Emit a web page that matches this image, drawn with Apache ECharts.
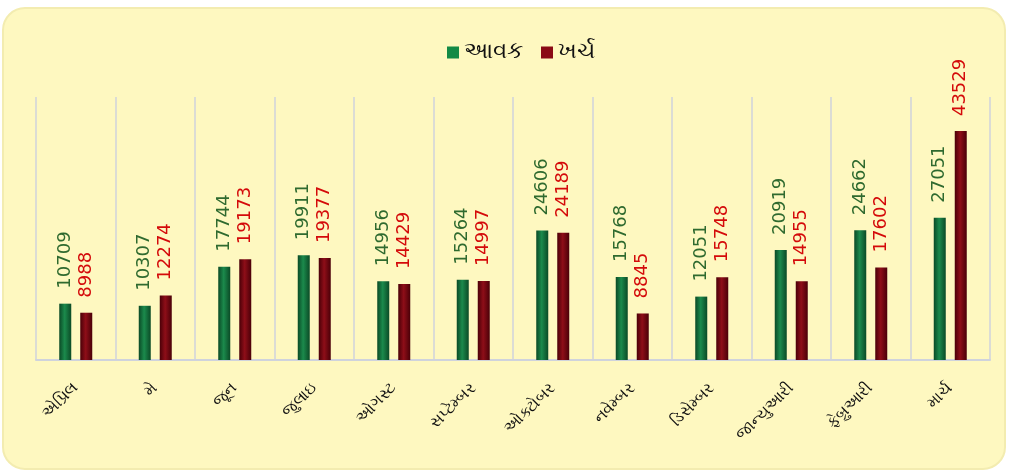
<!DOCTYPE html>
<html>
<head>
<meta charset="utf-8">
<script src="https://cdn.jsdelivr.net/npm/echarts@6/dist/echarts.min.js"></script>
<style>
  html, body { margin: 0; padding: 0; background: #ffffff; }
  #chart { width: 1010px; height: 472px; }
</style>
</head>
<body>
<div id="chart"></div>
<script>
// મહિના અને આવક / ખર્ચ
var months = ['એપ્રિલ', 'મે', 'જૂન', 'જુલાઇ', 'ઓગસ્ટ', 'સપ્ટેમ્બર', 'ઓક્ટોબર', 'નવેમ્બર', 'ડિસેમ્બર', 'જાન્યુઆરી', 'ફેબ્રુઆરી', 'માર્ચ']
var income = [10709, 10307, 17744, 19911, 14956, 15264, 24606, 15768, 12051, 20919, 24662, 27051]
var expense = [8988, 12274, 19173, 19377, 14429, 14997, 24189, 8845, 15748, 14955, 17602, 43529]
var seriesNames = ['આવક', 'ખર્ચ']

var font = '"DejaVu Sans", "Noto Sans", sans-serif'

// બાર માટે ગ્રેડિયન્ટ
function barColor (edge, mid) {
  return new echarts.graphic.LinearGradient(0, 0, 1, 0, [
    {offset: 0, color: edge},
    {offset: 0.45, color: mid},
    {offset: 1, color: edge}
  ])
}
var green = barColor('#0b4a26', '#1b8a4c')
var red = barColor('#4a0008', '#8e0e18')

function valueLabel (color) {
  return {
    show: true,
    position: 'top',
    rotate: 90,
    align: 'left',
    verticalAlign: 'middle',
    distance: 15,
    color: color,
    fontFamily: font,
    fontSize: 18
  }
}

var myChart = echarts.init(document.getElementById('chart'))
var option = {
  animation: false,
  graphic: [{
    type: 'rect',
    z: -10,
    shape: {x: 3, y: 8, width: 1002, height: 461, r: 22},
    style: {fill: '#fef8c0', stroke: '#f3ecb0', lineWidth: 2}
  }],
  legend: {
    top: 36,
    left: 442,
    itemWidth: 12,
    itemHeight: 12,
    itemGap: 18,
    data: [
      {name: seriesNames[0], icon: 'rect', itemStyle: {color: '#138a45'}},
      {name: seriesNames[1], icon: 'rect', itemStyle: {color: '#8a0a15'}}
    ],
    textStyle: {color: '#111', fontSize: 23, fontFamily: font}
  },
  grid: {left: 36, right: 20, top: 97, bottom: 112, containLabel: false},
  xAxis: {
    type: 'category',
    data: months,
    axisLine: {lineStyle: {color: '#cfd3dc', width: 2}},
    axisTick: {show: false},
    splitLine: {show: true, lineStyle: {color: '#cfd3dc', width: 1.5}},
    axisLabel: {
      rotate: 45,
      margin: 26,
      interval: 0,
      color: '#111',
      fontSize: 16,
      fontFamily: font
    }
  },
  yAxis: {
    type: 'value',
    min: 0,
    max: 50000,
    show: false,
    splitLine: {show: false}
  },
  series: [
    {
      name: seriesNames[0],
      type: 'bar',
      data: income,
      barWidth: 12,
      barGap: '75%',
      itemStyle: {color: green},
      label: valueLabel('#2f6a2f')
    },
    {
      name: seriesNames[1],
      type: 'bar',
      data: expense,
      barWidth: 12,
      itemStyle: {color: red},
      label: valueLabel('#d40a0a')
    }
  ]
}
myChart.setOption(option)
</script>
</body>
</html>
